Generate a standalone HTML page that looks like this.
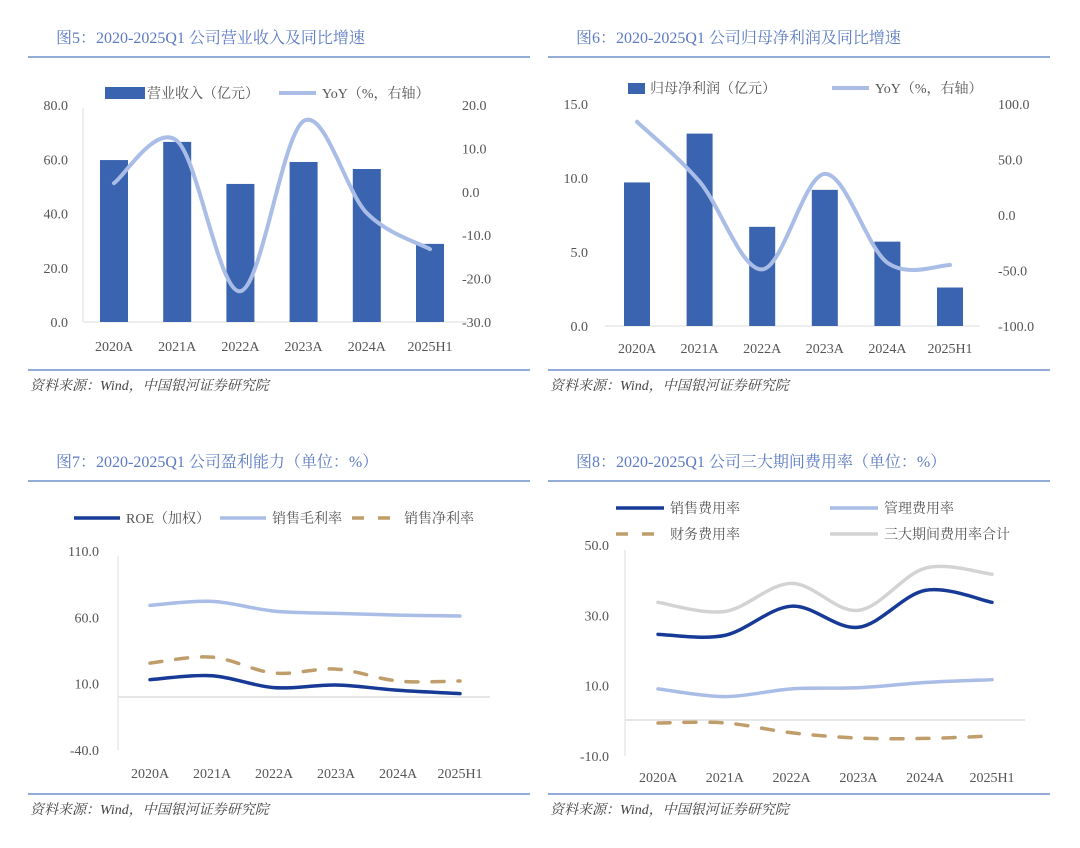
<!DOCTYPE html>
<html><head><meta charset="utf-8">
<style>
body{margin:0;background:#fff;width:1080px;height:843px;overflow:hidden;font-family:"Liberation Serif","Noto Serif CJK SC",serif;}
svg text{font-family:"Liberation Serif","Noto Serif CJK SC",serif;}
</style></head>
<body>
<svg id="s" width="1080" height="843" xmlns="http://www.w3.org/2000/svg"></svg>
<script>
const cats=['2020A','2021A','2022A','2023A','2024A','2025H1'];
const revenue=[59.7,66.4,50.9,59.0,56.4,28.8];
const revenueYoY=[2.0,11.7,-22.9,16.3,-4.9,-13.2];
const profit=[9.7,13.0,6.7,9.2,5.7,2.6];
const profitYoY=[84,30,-49,37,-43,-45];
const roe=[13,16,7,9,5,2.5];
const grossMargin=[69,72,64.7,63,61.7,61];
const netMargin=[25.5,30,18,21,12,12];
const salesExp=[24.6,24.3,32.6,26.6,37.1,33.7];
const adminExp=[9.1,6.9,9.1,9.4,10.9,11.7];
const finExp=[-0.6,-0.6,-3.4,-4.9,-5.0,-4.3];
const totalExp=[33.7,31.1,39.1,31.4,43.4,41.7];
const t5L=['80.0','60.0','40.0','20.0','0.0'],t5R=['20.0','10.0','0.0','-10.0','-20.0','-30.0'];
const t6L=['15.0','10.0','5.0','0.0'],t6R=['100.0','50.0','0.0','-50.0','-100.0'];
const t7=['110.0','60.0','10.0','-40.0'];
const t8=['50.0','30.0','10.0','-10.0'];

const S=document.getElementById('s');const NS='http://www.w3.org/2000/svg';
function el(tag,attrs,parent){const e=document.createElementNS(NS,tag);for(const k in attrs)e.setAttribute(k,attrs[k]);(parent||S).appendChild(e);return e;}
function txt(x,y,s,attrs){const e=el('text',Object.assign({x:x,y:y,'font-size':14,fill:'#555'},attrs||{}));e.textContent=s;return e;}
function lin(a,b,v){return (v-a[0])/(a[1]-a[0])*(b[1]-b[0])+b[0];}
function smooth(pts){let d='M'+pts[0][0]+','+pts[0][1];for(let i=0;i<pts.length-1;i++){const p0=pts[i-1]||pts[i],p1=pts[i],p2=pts[i+1],p3=pts[i+2]||p2;const c1=[p1[0]+(p2[0]-p0[0])/6,p1[1]+(p2[1]-p0[1])/6],c2=[p2[0]-(p3[0]-p1[0])/6,p2[1]-(p3[1]-p1[1])/6];d+=' C'+c1+' '+c2+' '+p2;}return d;}
function frame(x0,title,ySrc,yTitle){
  let e=txt(x0+28,yTitle,title,{'font-size':16,fill:'#5b7bc4'});
  
  e=el('line',{x1:x0,x2:x0+502,y1:yTitle+14,y2:yTitle+14,stroke:'#6f8fcc','stroke-width':1.5});
  
  e=el('line',{x1:x0,x2:x0+502,y1:ySrc,y2:ySrc,stroke:'#6f8fcc','stroke-width':1.5});
  
  e=txt(x0+2,ySrc+20,'资料来源：Wind，中国银河证券研究院',{'font-size':14,fill:'#444','font-style':'italic'});
  
}
function xpos(x0,dx,i){return x0+dx*i;}
function catLabels(x0,dx,y){cats.forEach((c,i)=>{const e=txt(xpos(x0,dx,i),y,c,{'text-anchor':'middle'});});}
function ticks(arr,vals,ymap,x,anchor){arr.forEach((t,i)=>{const e=txt(x,ymap(vals[i])+5,t,{'text-anchor':anchor});});}
function series(vals,x0,dx,ymap,stroke,w,dash,name){const pts=vals.map((v,i)=>[xpos(x0,dx,i),ymap(v)]);const a={d:smooth(pts),fill:'none',stroke:stroke,'stroke-width':w,'stroke-linecap':'round'};if(dash)a['stroke-dasharray']=dash;const e=el('path',a);}
function legLine(x1,x2,y,stroke,w,dash,label,name){const a={x1:x1,x2:x2,y1:y,y2:y,stroke:stroke,'stroke-width':w};if(dash)a['stroke-dasharray']=dash;let e=el('line',a);e=txt(x2+6,y+5,label);}

/* Chart 5 */
frame(28,'图5：2020-2025Q1 公司营业收入及同比增速',370,43);
{const yL=v=>lin([0,80],[322,105],v),yR=v=>lin([-30,20],[322,105],v),x0=114,dx=63.2;
el('line',{x1:83,x2:83,y1:108,y2:322,stroke:'#ddd'});el('line',{x1:83,x2:468,y1:322,y2:322,stroke:'#ddd'});
ticks(t5L,[80,60,40,20,0],yL,68,'end');ticks(t5R,[20,10,0,-10,-20,-30],yR,462,'start');
revenue.forEach((v,i)=>{const e=el('rect',{x:xpos(x0,dx,i)-14,y:yL(v),width:28,height:yL(0)-yL(v),fill:'#3a64b0'});});
series(revenueYoY,x0,dx,yR,'#a9bde6',4,null,'line-revenue-yoy');
catLabels(x0,dx,351);
let e=el('rect',{x:105,y:87,width:40,height:12,fill:'#3a64b0'});
e=txt(147,98,'营业收入（亿元）');
legLine(279,316,93,'#a9bde6',4,null,'YoY（%，右轴）','legend-revenue-yoy');}

/* Chart 6 */
frame(548,'图6：2020-2025Q1 公司归母净利润及同比增速',370,43);
{const yL=v=>lin([0,15],[326,104],v),yR=v=>lin([-100,100],[326,104],v),x0=637,dx=62.6;
el('line',{x1:605,x2:980,y1:326,y2:326,stroke:'#ddd'});
ticks(t6L,[15,10,5,0],yL,588,'end');ticks(t6R,[100,50,0,-50,-100],yR,998,'start');
profit.forEach((v,i)=>{const e=el('rect',{x:xpos(x0,dx,i)-13,y:yL(v),width:26,height:yL(0)-yL(v),fill:'#3a64b0'});});
series(profitYoY,x0,dx,yR,'#a9bde6',4,null,'line-profit-yoy');
catLabels(x0,dx,353);
let e=el('rect',{x:628,y:83,width:17,height:11,fill:'#3a64b0'});
e=txt(650,93,'归母净利润（亿元）');
legLine(832,869,88,'#a9bde6',4,null,'YoY（%，右轴）','legend-profit-yoy');}

/* Chart 7 */
frame(28,'图7：2020-2025Q1 公司盈利能力（单位：%）',794,467);
{const y=v=>lin([-40,110],[750,551],v),x0=150,dx=62;
el('line',{x1:118,x2:118,y1:556,y2:750,stroke:'#ddd'});el('line',{x1:118,x2:490,y1:697,y2:697,stroke:'#ddd','stroke-width':1.5});
ticks(t7,[110,60,10,-40],y,99,'end');
series(grossMargin,x0,dx,y,'#a9bde6',3.5,null,'line-gross-margin');
series(netMargin,x0,dx,y,'#bf9e6b',3.5,'12 14','line-net-margin');
series(roe,x0,dx,y,'#173a97',3.5,null,'line-roe');
catLabels(x0,dx,778);
legLine(74,120,518,'#173a97',3.5,null,'ROE（加权）','legend-roe');
legLine(220,266,518,'#a9bde6',3.5,null,'销售毛利率','legend-gross-margin');
legLine(352,396,518,'#bf9e6b',3.5,'12 14','','legend-net-margin');
let e=txt(404,523,'销售净利率');}

/* Chart 8 */
frame(548,'图8：2020-2025Q1 公司三大期间费用率（单位：%）',794,467);
{const y=v=>lin([-10,50],[756,545],v),x0=658,dx=66.8;
el('line',{x1:625,x2:625,y1:550,y2:756,stroke:'#ddd'});el('line',{x1:625,x2:1025,y1:720,y2:720,stroke:'#ddd','stroke-width':1.5});
ticks(t8,[50,30,10,-10],y,609,'end');
series(totalExp,x0,dx,y,'#d3d3d3',3.5,null,'line-total-expense');
series(salesExp,x0,dx,y,'#173a97',3.5,null,'line-sales-expense');
series(adminExp,x0,dx,y,'#a9bde6',3.5,null,'line-admin-expense');
series(finExp,x0,dx,y,'#bf9e6b',3.5,'12 14','line-finance-expense');
catLabels(x0,dx,782);
legLine(616,664,508,'#173a97',3.5,null,'销售费用率','legend-sales-expense');
legLine(830,878,508,'#a9bde6',3.5,null,'管理费用率','legend-admin-expense');
legLine(616,664,534,'#bf9e6b',3.5,'12 14','财务费用率','legend-finance-expense');
legLine(830,878,534,'#d3d3d3',3.5,null,'三大期间费用率合计','legend-total-expense');}
</script>
</body></html>
